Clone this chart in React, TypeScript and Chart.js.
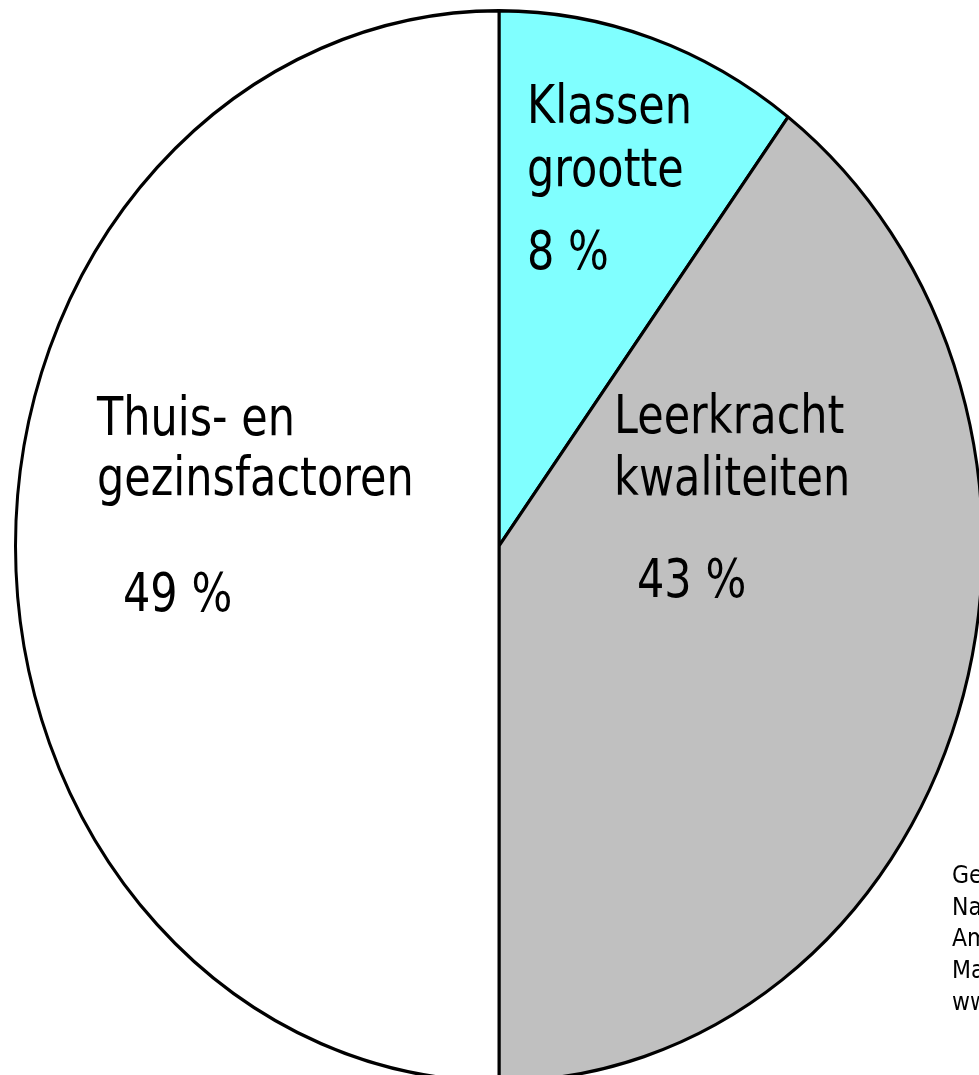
import React, { useEffect, useRef } from "react";
import { Chart, registerables } from "chart.js";

Chart.register(...registerables);

// ---- data ----
const categories = ["Klassen grootte", "Leerkracht kwaliteiten", "Thuis- en gezinsfactoren"];
// slice sizes as drawn in the picture (share of the full turn, %)
const sliceShares = [10.2, 39.8, 50.0];
// percentages printed in the slices
const percentLabels = ["8 %", "43 %", "49 %"];
const labelLines = [
  ["Klassen", "grootte"],
  ["Leerkracht", "kwaliteiten"],
  ["Thuis- en", "gezinsfactoren"],
];
const sourceLines = [
  "Gebaseerd op:",
  "National Commission on",
  "America's Future",
  "Making it happen",
  "www.nctaf.org",
];

// ---- styles / layout ----
const sliceColors = ["#80FFFF", "#C0C0C0", "#FFFFFF"];
const ELLIPSE_SY = 1.107; // vertical stretch of the pie
const TEXT_SY = 1.22; // vertical stretch of the label glyphs
const labelFont = '43px "DejaVu Sans"';
const sourceFont = '22px "DejaVu Sans"';
const labelLayout = [
  { x: 527, lines: [123, 186], px: 527, py: 269 },
  { x: 614, lines: [433, 495], px: 637, py: 597 },
  { x: 97, lines: [435, 495], px: 123, py: 611 },
];
const sourceLayout = { x: 952, y0: 883, step: 31.7, sy: 1.15 };

const ellipsePlugin = {
  id: "ellipseStretch",
  beforeDatasetsDraw(chart: any) {
    const arc = chart.getDatasetMeta(0).data[0];
    const ctx = chart.ctx;
    ctx.save();
    ctx.translate(arc.x, arc.y);
    ctx.scale(1, ELLIPSE_SY);
    ctx.translate(-arc.x, -arc.y);
  },
  afterDatasetsDraw(chart: any) {
    chart.ctx.restore();
  },
};

const labelPlugin = {
  id: "sliceLabels",
  afterDraw(chart: any) {
    const ctx = chart.ctx;
    ctx.save();
    ctx.fillStyle = "#000000";
    ctx.textAlign = "left";
    ctx.textBaseline = "alphabetic";
    ctx.font = labelFont;
    const put = (t: string, x: number, y: number, sy: number) => {
      ctx.save();
      ctx.translate(x, y);
      ctx.scale(1, sy);
      ctx.fillText(t, 0, 0);
      ctx.restore();
    };
    labelLines.forEach((lines, i) => {
      const L = labelLayout[i];
      lines.forEach((t, j) => put(t, L.x, L.lines[j], TEXT_SY));
      put(percentLabels[i], L.px, L.py, TEXT_SY);
    });
    ctx.font = sourceFont;
    sourceLines.forEach((t, i) =>
      put(t, sourceLayout.x, sourceLayout.y0 + i * sourceLayout.step, sourceLayout.sy)
    );
    ctx.restore();
  },
};

export default function App() {
  const ref = useRef<HTMLCanvasElement | null>(null);
  useEffect(() => {
    if (!ref.current) return;
    const chart = new Chart(ref.current, {
      type: "pie",
      data: {
        labels: categories,
        datasets: [
          {
            data: sliceShares,
            backgroundColor: sliceColors,
            borderColor: "#000000",
            borderWidth: 3,
            clip: false,
          } as any,
        ],
      },
      options: {
        animation: false,
        responsive: false,
        events: [],
        layout: { padding: { left: 14, right: 16, top: 61, bottom: 44 } },
        plugins: {
          legend: { display: false },
          tooltip: { enabled: false },
          title: { display: false },
        },
      },
      plugins: [ellipsePlugin, labelPlugin],
    });
    return () => chart.destroy();
  }, []);
  return (
    <div
      style={{
        position: "fixed",
        left: 0,
        top: 0,
        width: 979,
        height: 1075,
        overflow: "hidden",
        background: "#FFFFFF",
      }}
    >
      <canvas ref={ref} width={1000} height={1075} style={{ display: "block" }} />
    </div>
  );
}
